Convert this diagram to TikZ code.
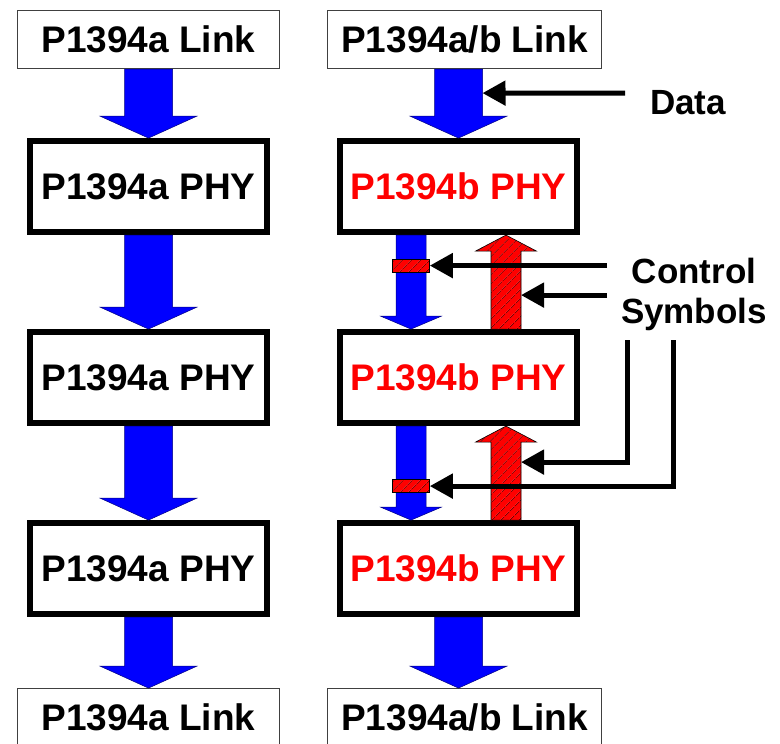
\documentclass[tikz,border=0pt]{standalone}
\usepackage{fontspec}
\setmainfont{Liberation Sans}
\usepackage{xcolor}
\usetikzlibrary{arrows.meta, positioning, calc, patterns.meta}

% block arrow: style, tail, tip, half shaft, half head, head base offset
\newcommand{\blockarrow}[6]{%
  \path[#1] ($(#2)+(-#4,0)$) -- ($(#2)+(#4,0)$) -- ($(#3)+(#4,#6)$)
    -- ($(#3)+(#5,#6)$) -- (#3) -- ($(#3)+(-#5,#6)$) -- ($(#3)+(-#4,#6)$) -- cycle;
}

\begin{document}
\begin{tikzpicture}[
    x=1pt, y=-1pt,
    linkbox/.style = {rectangle, draw=black!75, line width=1.2pt, fill=white,
                      minimum width=262pt, minimum height=58pt, inner sep=0pt,
                      font=\bfseries\fontsize{37}{44}\selectfont},
    phybox/.style  = {rectangle, draw=black, line width=6pt, fill=white,
                      minimum width=237pt, minimum height=91pt, inner sep=0pt,
                      font=\bfseries\fontsize{37}{44}\selectfont},
    phyb/.style    = {phybox, text=red},
    flow/.style    = {fill=blue, draw=blue!50!black, line width=0.5pt},
    hatch/.style   = {preaction={fill=red}, pattern color=black,
                      pattern={Lines[angle=45, distance=6.5pt, line width=0.6pt]},
                      draw=black, line width=0.6pt},
    csbox/.style   = {rectangle, hatch, minimum width=37pt, minimum height=13pt,
                      inner sep=0pt},
    ptr/.style     = {line width=5pt, -{Triangle[length=23pt, width=24pt]}},
    lbl/.style     = {font=\bfseries\fontsize{35}{40}\selectfont, inner sep=0pt}
]
\useasboundingbox (0,0) rectangle (780,744);

%% Left column - P1394a
\node[linkbox]                  (linka1) at (148.5,39.5) {P1394a Link};
\node[phybox, below=69pt of linka1] (phya1) {P1394a PHY};
\node[phybox, below=94pt of phya1]  (phya2) {P1394a PHY};
\node[phybox, below=94pt of phya2]  (phya3) {P1394a PHY};
\node[linkbox, below=71pt of phya3] (linka2) {P1394a Link};

%% Right column - P1394b
\node[phyb, right=67pt of phya1] (phyb1) {P1394b PHY};
\node[phyb, right=67pt of phya2] (phyb2) {P1394b PHY};
\node[phyb, right=67pt of phya3] (phyb3) {P1394b PHY};
\node[linkbox, minimum width=274pt, right=47pt of linka1] (linkb1) {P1394a/b Link};
\node[linkbox, minimum width=274pt, right=47pt of linka2] (linkb2) {P1394a/b Link};

%% Data flow, left
\blockarrow{flow}{linka1.south}{phya1.north}{24}{48.5}{-22}
\blockarrow{flow}{phya1.south}{phya2.north}{24}{48.5}{-22}
\blockarrow{flow}{phya2.south}{phya3.north}{24}{48.5}{-22}
\blockarrow{flow}{phya3.south}{linka2.north}{24}{48.5}{-22}

%% Data flow, right
\blockarrow{flow}{linkb1.south -| phyb1.north}{phyb1.north}{24}{48.5}{-22}
\blockarrow{flow}{phyb3.south}{linkb2.north -| phyb3.south}{24}{48.5}{-22}

\coordinate (dn1a) at ($(phyb1.south)+(-47.5,0)$);
\coordinate (dn1b) at ($(phyb2.north)+(-47.5,0)$);
\coordinate (dn2a) at ($(phyb2.south)+(-47.5,0)$);
\coordinate (dn2b) at ($(phyb3.north)+(-47.5,0)$);
\coordinate (up1a) at ($(phyb2.north)+(47.5,0)$);
\coordinate (up1b) at ($(phyb1.south)+(47.5,0)$);
\coordinate (up2a) at ($(phyb3.north)+(47.5,0)$);
\coordinate (up2b) at ($(phyb2.south)+(47.5,0)$);

\blockarrow{flow}{dn1a}{dn1b}{15}{30.5}{-13}
\blockarrow{flow}{dn2a}{dn2b}{15}{30.5}{-13}
\blockarrow{hatch}{up1a}{up1b}{15}{30.5}{16}
\blockarrow{hatch}{up2a}{up2b}{15}{30.5}{16}

%% Control symbols in the data stream
\node[csbox] (cs1) at ($(dn1a)+(0,30.5)$) {};
\node[csbox] (cs2) at ($(dn2a)+(0,60)$) {};

%% Labels
\node[lbl, anchor=west] (data) at (650,103) {Data};
\node[lbl, align=center] (ctrl) at (694,294) {Control\\Symbols};

%% Pointers
\coordinate (dtail) at (625,93);
\coordinate (dtip)  at ($(phyb1.north)+(24,-45)$);
\draw[ptr] (dtail) -- (dtip);

\coordinate (cx)   at (607,0);
\coordinate (up1r) at ($(up1b)+(15,60)$);
\coordinate (up2r) at ($(up2b)+(15,36)$);
\coordinate (v1)   at (627,340);
\coordinate (v2)   at (673,340);
\draw[ptr] (cs1.east -| cx) -- (cs1.east);
\draw[ptr] (up1r -| cx) -- (up1r);
\draw[ptr] (v1) |- (up2r);
\draw[ptr] (v2) |- (cs2.east);

\end{tikzpicture}
\end{document}
